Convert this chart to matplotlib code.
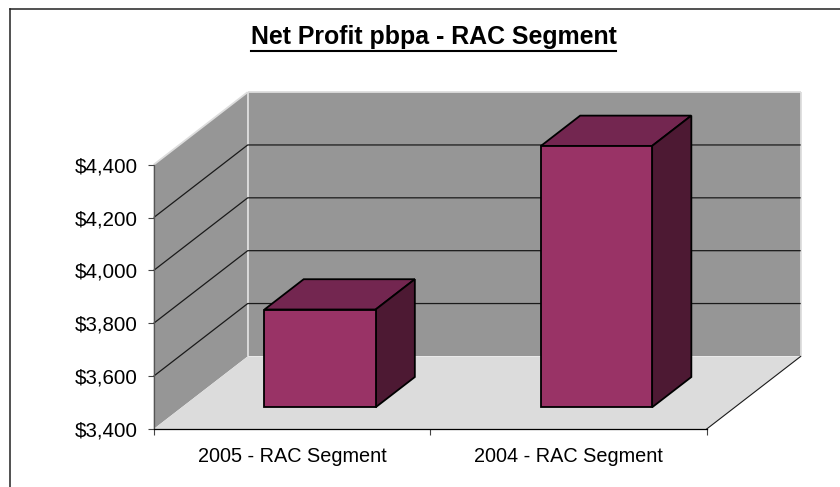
import matplotlib
matplotlib.use("Agg")
import matplotlib.pyplot as plt
from matplotlib.patches import Polygon

categories = ["2005 - RAC Segment", "2004 - RAC Segment"]
values = [3770, 4389]
y_ticks = [3400, 3600, 3800, 4000, 4200, 4400]
title = "Net Profit pbpa - RAC Segment"

W, H = 840, 487
# front plane of the fake 3d box, in pixels from top left
LEFT, RIGHT, TOP, BOTTOM = 153.7, 706.7, 164.7, 429.0
DEPTH_X, DEPTH_Y = 94.0, 72.6
BAR_WIDTH = 0.402
BAR_D0, BAR_D1 = 0.299, 0.716

WALL = "#969696"
FLOOR = "#dcdcdc"
FRONT = "#993366"
TOP_FACE = "#732650"
SIDE = "#4d1933"

plt.rcParams["font.family"] = ["Liberation Sans", "DejaVu Sans"]

fig = plt.figure(figsize=(W / 100, H / 100), dpi=100)
ax = fig.add_axes([LEFT / W, 1 - BOTTOM / H, (RIGHT - LEFT) / W, (BOTTOM - TOP) / H])
ax.set_xlim(0, len(categories))
ax.set_ylim(y_ticks[0], y_ticks[-1])
ax.patch.set_visible(False)

dx = DEPTH_X / (RIGHT - LEFT) * len(categories)
dy = DEPTH_Y / (BOTTOM - TOP) * (y_ticks[-1] - y_ticks[0])


def pt(x, y, d):
    # project a point at depth d (0 front, 1 back wall)
    return (x + d * dx, y + d * dy)


def face(points, color, lw=1.3, edge="black", z=3):
    ax.add_patch(Polygon(points, closed=True, facecolor=color, edgecolor=edge, linewidth=lw,
                         clip_on=False, zorder=z, joinstyle="miter"))


x0, x1 = 0, len(categories)
y0, y1 = y_ticks[0], y_ticks[-1]

# walls and floor
face([pt(x0, y0, 1), pt(x1, y0, 1), pt(x1, y1, 1), pt(x0, y1, 1)], WALL, lw=0, edge="none", z=1)
face([pt(x0, y0, 0), pt(x0, y0, 1), pt(x0, y1, 1), pt(x0, y1, 0)], WALL, lw=0, edge="none", z=1)
face([pt(x0, y0, 0), pt(x1, y0, 0), pt(x1, y0, 1), pt(x0, y0, 1)], FLOOR, lw=0, edge="none", z=1)

# light edges of the walls
light = dict(color="#dddddd", lw=1.3, clip_on=False, zorder=1.5, solid_capstyle="butt")
for a, b in [(pt(x0, y1, 0), pt(x0, y1, 1)), (pt(x0, y1, 1), pt(x1, y1, 1)),
             (pt(x0, y1, 1), pt(x0, y0, 1)), (pt(x1, y1, 1), pt(x1, y0, 1))]:
    ax.plot([a[0], b[0]], [a[1], b[1]], **light)

# gridlines run along the side wall then the back wall
grid = dict(color="#1a1a1a", lw=0.9, clip_on=False, zorder=2, solid_capstyle="butt")
for v in y_ticks[1:-1]:
    a, b, c = pt(x0, v, 0), pt(x0, v, 1), pt(x1, v, 1)
    ax.plot([a[0], b[0], c[0]], [a[1], b[1], c[1]], **grid)

# floor outline on the right hand side
a, b = pt(x1, y0, 0), pt(x1, y0, 1)
ax.plot([a[0], b[0]], [a[1], b[1]], color="#1a1a1a", lw=0.8, clip_on=False, zorder=2)

# bars
for i, v in enumerate(values):
    l, r = i + 0.5 - BAR_WIDTH / 2, i + 0.5 + BAR_WIDTH / 2
    face([pt(l, v, BAR_D0), pt(r, v, BAR_D0), pt(r, v, BAR_D1), pt(l, v, BAR_D1)], TOP_FACE)
    face([pt(r, y0, BAR_D0), pt(r, y0, BAR_D1), pt(r, v, BAR_D1), pt(r, v, BAR_D0)], SIDE)
    face([pt(l, y0, BAR_D0), pt(r, y0, BAR_D0), pt(r, v, BAR_D0), pt(l, v, BAR_D0)], FRONT)

# axes
for s in ["top", "right"]:
    ax.spines[s].set_visible(False)
ax.spines["left"].set_color("#555555")
ax.spines["left"].set_linewidth(0.9)
ax.spines["bottom"].set_color("black")
ax.spines["bottom"].set_linewidth(0.9)
ax.set_yticks(y_ticks)
ax.set_yticklabels([f"${v:,}" for v in y_ticks], fontsize=14.8)
ax.set_xticks(range(len(categories) + 1))
ax.set_xticklabels([])
ax.tick_params(axis="both", length=4.3, width=0.8, color="#444444", pad=7)
for i, name in enumerate(categories):
    ax.annotate(name, (i + 0.5, y0), xytext=(0, -13), textcoords="offset points",
                ha="center", va="top", fontsize=14.3, annotation_clip=False)

# frame only shows on the top and left, the rest is cut off by the crop
fig.add_artist(plt.Line2D([9.5 / W, 1], [1 - 9 / H, 1 - 9 / H], color="#222222", lw=1.1))
fig.add_artist(plt.Line2D([9.5 / W, 9.5 / W], [0, 1 - 9 / H], color="#222222", lw=1.1))

t = fig.text(433.5 / W, 1 - 37 / H, title, ha="center", va="center", fontsize=17.9, fontweight="bold")
fig.canvas.draw()
bb = t.get_window_extent()
fig.add_artist(plt.Line2D([bb.x0 / W, bb.x1 / W], [1 - 50.5 / H, 1 - 50.5 / H], color="black", lw=1.5))

fig.savefig("out.png", dpi=100)
